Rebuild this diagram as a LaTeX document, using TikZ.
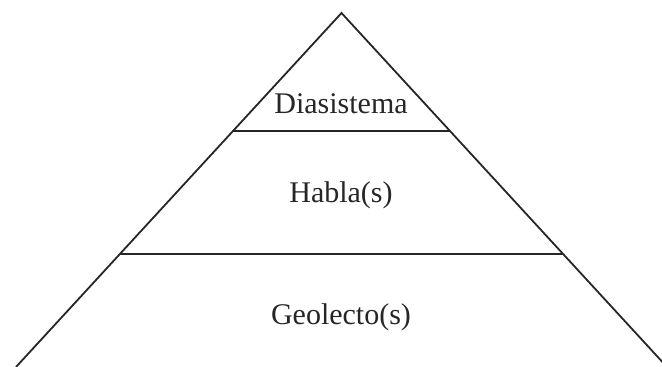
\documentclass[tikz,border=0pt]{standalone}
\usepackage{fontspec}
\setmainfont{Liberation Serif}
\usepackage{tikz}
\usetikzlibrary{calc}
\tikzset{
  % lines of the pyramid
  rand/.style={
    draw=black!85,
    line width=1.8pt,
    line join=miter},
  % labels of the levels
  stufe/.style={
    anchor=base,
    inner sep=0pt,
    text=black!85,
    font=\fontsize{30}{33}\selectfont}
}

\begin{document}
\begin{tikzpicture}[x=1pt,y=1pt]
  \useasboundingbox (0,0) rectangle (662,367);
  \coordinate (spitze) at (341.5,354);
  \coordinate (links) at (16,0);
  \coordinate (rechts) at (667,0);
  \coordinate (l1) at ($(spitze)!0.3333!(links)$);
  \coordinate (r1) at ($(spitze)!0.3333!(rechts)$);
  \coordinate (l2) at ($(spitze)!0.681!(links)$);
  \coordinate (r2) at ($(spitze)!0.681!(rechts)$);
  \draw[rand] (links) -- (spitze) -- (rechts);
  \draw[rand] (l1) -- (r1);
  \draw[rand] (l2) -- (r2);
  \node[stufe] (dia) at (341,253) {Diasistema};
  \node[stufe] (habla) at (341,164) {Habla(s)};
  \node[stufe] (geo) at (341,42) {Geolecto(s)};
\end{tikzpicture}
\end{document}
